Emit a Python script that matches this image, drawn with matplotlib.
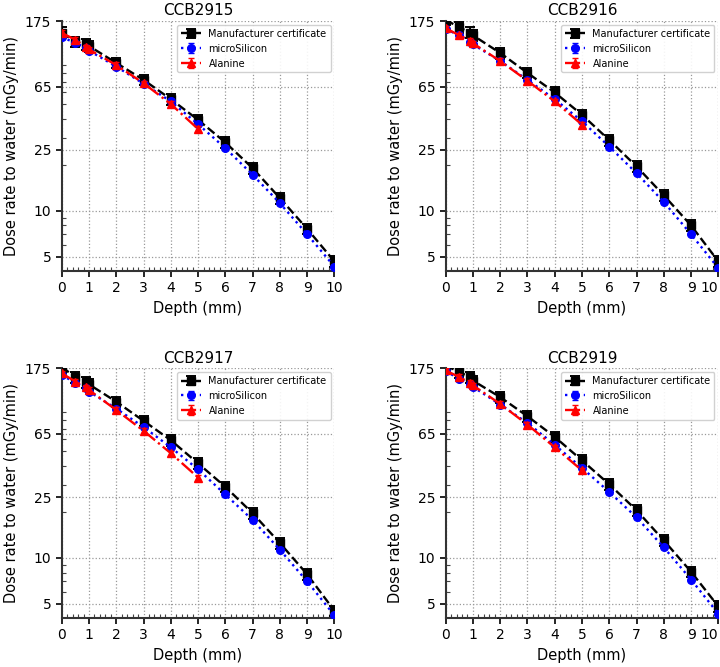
import matplotlib
matplotlib.use("Agg")
import matplotlib.pyplot as plt
from matplotlib.ticker import FixedLocator, MultipleLocator, LogLocator, NullFormatter

# depths (mm)
depth = [0, 0.5, 0.9, 1, 2, 3, 4, 5, 6, 7, 8, 9, 10]
depth_ala = [0, 0.5, 0.9, 1, 2, 3, 4, 5]

titles = ["CCB2915", "CCB2916", "CCB2917", "CCB2919"]

# Manufacturer certificate
manuf = [
    [147, 128, 123, 120, 93, 72, 53.8, 39.4, 28, 19.0, 12.1, 7.6, 4.65],
    [178, 159, 147, 141, 108, 80, 59.5, 42.5, 29, 19.5, 12.6, 8.0, 4.65],
    [178, 153, 141.6, 137, 105.5, 79, 59, 41.6, 29.2, 19.6, 12.5, 7.8, 4.5],
    [182, 165, 153, 145, 113, 84.7, 62, 43.5, 30.3, 20.5, 13.0, 8.1, 4.8],
]
# microSilicon
micro = [
    [137, 126, 116, 112, 88, 68, 52, 36.9, 25.7, 17.2, 11.2, 7.0, 4.3],
    [155, 141, 128, 123, 95.7, 72, 53.8, 38.5, 26.3, 17.6, 11.4, 7.0, 4.2],
    [158, 140, 129, 123, 95, 72, 53, 38, 26, 17.7, 11.3, 7.0, 4.2],
    [167, 149, 137, 132, 101, 76.5, 55, 38.8, 27, 18.4, 11.7, 7.2, 4.3],
]
# Alanine
alanine = [
    [146, 132, 118, 114, 90, 68.5, 50, 34.3],
    [157, 141, 130, 125, 95.7, 71, 52, 36.6],
    [162, 143, 131, 126, 93, 68, 48.5, 33.6],
    [169, 153, 140, 135, 102, 74.6, 53, 37.4],
]

# relative uncertainties
err_manuf = 0.08
err_micro = 0.03
err_ala = 0.04

yticks = [5, 10, 25, 65, 175]
xticks = list(range(0, 11))

fig, axes = plt.subplots(2, 2, figsize=(7.2, 6.67), dpi=100)
fig.subplots_adjust(left=0.0857, right=0.9977, top=0.9685, bottom=0.0739,
                    wspace=0.408, hspace=0.391)

for k, ax in enumerate(axes.flat):
    m = manuf[k]
    s = micro[k]
    a = alanine[k]
    ax.errorbar(depth, m, yerr=[v * err_manuf for v in m], color="black", ls="--",
                lw=1.7, marker="s", ms=5.5, capsize=3.5, elinewidth=1.4, capthick=1.4,
                label="Manufacturer certificate", zorder=3)
    ax.errorbar(depth, s, yerr=[v * err_micro for v in s], color="blue", ls=":",
                lw=1.7, marker="o", ms=5.5, capsize=2, elinewidth=1.0,
                label="microSilicon", zorder=4)
    ax.errorbar(depth_ala, a, yerr=[v * err_ala for v in a], color="red", ls="-.",
                lw=1.7, marker="^", ms=5.5, capsize=2, elinewidth=1.0,
                label="Alanine", zorder=5)

    ax.set_yscale("log")
    ax.set_ylim(4.05, 175)
    ax.set_xlim(0, 10)
    ax.yaxis.set_major_locator(FixedLocator(yticks))
    ax.set_yticklabels([str(t) for t in yticks])
    ax.yaxis.set_minor_locator(LogLocator(base=10, subs=range(2, 10)))
    ax.yaxis.set_minor_formatter(NullFormatter())
    ax.set_xticks(xticks)
    ax.set_xticklabels([str(t) for t in xticks])
    ax.xaxis.set_minor_locator(MultipleLocator(0.2))

    ax.tick_params(which="major", direction="out", length=4, width=1.2,
                   labelsize=10, colors="black")
    ax.tick_params(which="minor", direction="in", length=3, width=0.8, color="#444444")

    ax.spines["top"].set_visible(False)
    ax.spines["right"].set_visible(False)
    for side in ("left", "bottom"):
        ax.spines[side].set_color("#333333")
        ax.spines[side].set_linewidth(1.5)

    ax.grid(True, which="major", linestyle=":", color="#999999", lw=0.9)

    ax.set_xlabel("Depth (mm)", fontsize=10.5)
    ax.set_ylabel("Dose rate to water (mGy/min)", fontsize=10.5)
    ax.set_title(titles[k], fontsize=11, pad=4)

    ax.legend(loc="upper right", fontsize=7, framealpha=0.9, borderaxespad=0.4)

    # right-hand panels sit at the figure edge: keep the last label inside
    if k % 2 == 1:
        ax.get_xticklabels()[-1].set_horizontalalignment("right")

plt.savefig("out.png", dpi=100, facecolor="white")
